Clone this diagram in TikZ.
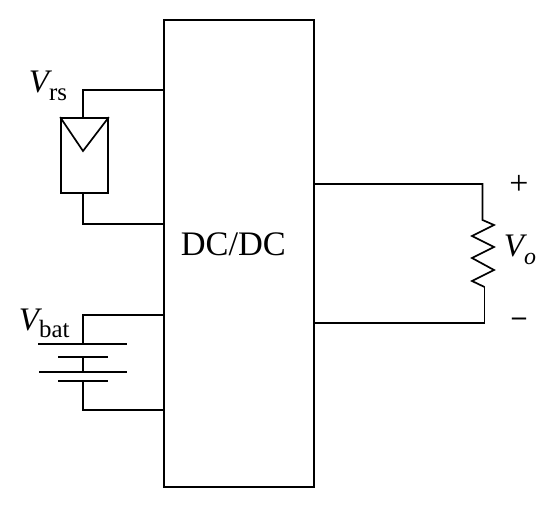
\documentclass[tikz,border=0pt]{standalone}
\usepackage{fontspec}
\setmainfont{Liberation Serif}
\usetikzlibrary{positioning}

\begin{document}
\begin{tikzpicture}[
      x=1bp, y=-1bp,
      line width=1.7bp,
      wire/.style={line join=miter},
      plate/.style={line width=1.8bp},
      conv/.style={draw, minimum width=150bp, minimum height=467bp, inner sep=0pt},
      panel/.style={draw, minimum width=47bp, minimum height=75bp, inner sep=0pt},
      lbl/.style={inner sep=0pt, anchor=base west, font=\fontsize{33}{33}\selectfont},
      sign/.style={inner sep=0pt, font=\fontsize{34}{34}\selectfont}
    ]
    \useasboundingbox (0,0) rectangle (555,509);
    \node[conv] (dcdc) at (239,253.5) {};
    \node[lbl, font=\fontsize{34.5}{34.5}\selectfont] (dctext) at (180,255) {DC/DC};
    \node[panel] (rs) at (84.5,155.5) {};

    % solar panel
    \coordinate (rsa) at (164,90);
    \coordinate (rsb) at (164,224);
    \coordinate (rstip) at (83,151);
    \draw[wire] (rsa) -| (rs.north -| rstip);
    \draw[wire] (rsb) -| (rs.south -| rstip);
    \draw (rs.north west) -- (rstip) -- (rs.north east);

    % battery
    \coordinate (bata) at (164,315);
    \coordinate (batb) at (164,410);
    \node[inner sep=0pt, minimum size=0pt] (p1) at (83,344) {};
    \node[inner sep=0pt, minimum size=0pt] (p2) at (83,357) {};
    \node[inner sep=0pt, minimum size=0pt] (p3) at (83,372) {};
    \node[inner sep=0pt, minimum size=0pt] (p4) at (83,381) {};
    \draw[plate] (38,344) -- (127,344);
    \draw[plate] (58,357) -- (108,357);
    \draw[plate] (39,372) -- (127,372);
    \draw[plate] (58,381) -- (108,381);
    \draw[wire] (bata) -| (p1);
    \draw (p2) -- (p3);
    \draw[wire] (batb) -| (p4);

    % load
    \coordinate (oa) at (314,184);
    \coordinate (ob) at (314,323);
    \coordinate (ra) at (482.5,220);
    \coordinate (rb) at (484.5,287);
    \draw[wire] (oa) -| (ra) -- (494,225) -- (472,236) -- (494,247) -- (472,258) -- (494,270) -- (472,281) -- (rb);
    \draw[wire] (ob) -| (rb);

    \node[lbl] (vrs) at (28,93) {\textit{V}\kern-3bp\raisebox{-8bp}{\fontsize{25}{25}\selectfont rs}};
    \node[lbl] (vbat) at (18,330) {\textit{V}\kern-3bp\raisebox{-7bp}{\fontsize{25}{25}\selectfont bat}};
    \node[lbl] (vo) at (503,256) {\textit{V}\kern-3bp\raisebox{-8bp}{\fontsize{24}{24}\selectfont\itshape o}};
    \node[sign] (plus) at (519,185) {+};
    \node[sign] (minus) at (519,322) {\fontsize{28}{28}\selectfont\bfseries\textendash};
  \end{tikzpicture}
\end{document}
